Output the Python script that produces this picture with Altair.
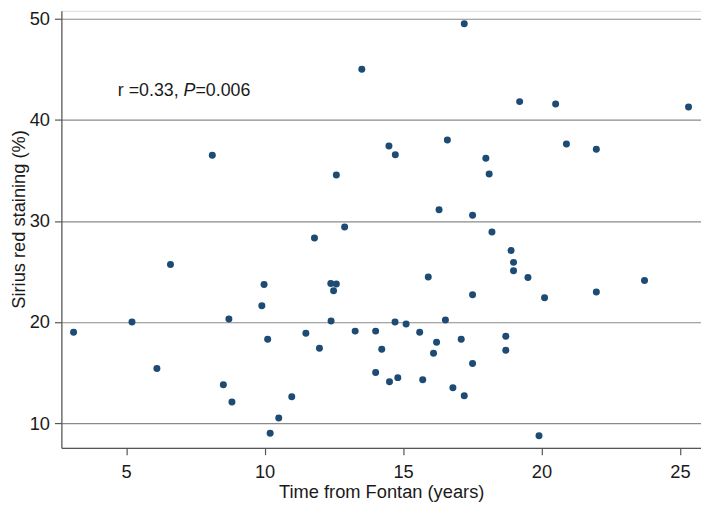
import altair as alt
import pandas as pd

# Time from Fontan (years)
time_years = [
    3.10, 5.21, 6.11, 6.60, 8.11, 8.51, 8.71, 8.82, 9.90, 9.98,
    10.11, 10.20, 10.51, 10.98, 11.49, 11.80, 11.98, 12.39, 12.49, 12.59,
    12.40, 12.59, 12.89, 13.27, 13.51, 14.01, 14.01, 14.23, 14.49, 14.51,
    14.71, 14.72, 14.81, 15.11, 15.60, 15.71, 15.91, 16.10, 16.21, 16.30,
    16.53, 16.60, 16.80, 17.10, 17.21, 17.21, 17.51, 17.51, 17.51, 17.99,
    18.11, 18.21, 18.71, 18.71, 18.90, 18.99, 18.99, 19.21, 19.51, 19.91,
    20.11, 20.51, 20.90, 21.98, 21.98, 23.72, 25.31,
]
# Sirius red staining (%)
sirius_red = [
    19.0, 20.0, 15.4, 25.7, 36.5, 13.8, 20.3, 12.1, 21.6, 23.7,
    18.3, 9.0, 10.5, 12.6, 18.9, 28.3, 17.4, 23.8, 23.1, 23.75,
    20.1, 34.55, 29.4, 19.1, 45.0, 19.1, 15.0, 17.3, 37.4, 14.1,
    20.0, 36.55, 14.5, 19.8, 19.0, 14.3, 24.45, 16.9, 18.0, 31.1,
    20.2, 38.0, 13.5, 18.3, 49.5, 12.7, 30.55, 22.7, 15.9, 36.2,
    34.65, 28.9, 18.6, 17.2, 27.07, 25.9, 25.06, 41.8, 24.4, 8.74,
    22.4, 41.56, 37.6, 37.1, 22.97, 24.1, 41.27,
]

x_ticks = [5, 10, 15, 20, 25]
y_ticks = [10, 20, 30, 40, 50]

x_title = "Time from Fontan (years)"
y_title = "Sirius red staining (%)"

ann_x = [4.7]
ann_y = [42.85]
ann_parts = ["r =0.33, ", "P", "=0.006"]

df = pd.DataFrame({"t": time_years, "s": sirius_red})
ann = pd.DataFrame({"x": ann_x, "y": ann_y})

FONT = "Liberation Sans"
x_scale = alt.Scale(domain=[2.66, 25.76], nice=False, zero=False)
y_scale = alt.Scale(domain=[7.56, 50.78], nice=False, zero=False)

points = alt.Chart(df).mark_circle(size=50, color="#1d4b74", opacity=1).encode(
    x=alt.X(
        "t:Q",
        scale=x_scale,
        axis=alt.Axis(
            values=x_ticks,
            title=x_title,
            grid=False,
            domainColor="#555555",
            domainWidth=1.2,
            tickColor="#555555",
            tickWidth=1.2,
            tickSize=7,
            labelPadding=8,
            labelFont=FONT,
            labelFontSize=18.5,
            labelColor="#1a1a1a",
            titleFont=FONT,
            titleFontSize=18.5,
            titleFontWeight="normal",
            titleColor="#1a1a1a",
            titleBaseline="alphabetic",
            titleY=50.5,
        ),
    ),
    y=alt.Y(
        "s:Q",
        scale=y_scale,
        axis=alt.Axis(
            values=y_ticks,
            title=y_title,
            grid=True,
            gridColor="#8a8a8a",
            gridWidth=1.2,
            domainColor="#555555",
            domainWidth=1.2,
            tickColor="#555555",
            tickWidth=1.2,
            tickSize=7,
            labelPadding=5,
            labelFont=FONT,
            labelFontSize=18.5,
            labelColor="#1a1a1a",
            titleFont=FONT,
            titleFontSize=18.5,
            titleFontWeight="normal",
            titleColor="#1a1a1a",
            titleBaseline="alphabetic",
            titleX=-37.5,
            titleY=210.5,
        ),
    ),
)

base_ann = alt.Chart(ann).encode(
    x=alt.X("x:Q", scale=x_scale),
    y=alt.Y("y:Q", scale=y_scale),
)
t1 = base_ann.mark_text(align="left", baseline="middle", font=FONT, fontSize=18, color="#1a1a1a").encode(
    text=alt.value(ann_parts[0])
)
t2 = base_ann.mark_text(align="left", baseline="middle", font=FONT, fontSize=18, fontStyle="italic", color="#1a1a1a", dx=66.5).encode(
    text=alt.value(ann_parts[1])
)
t3 = base_ann.mark_text(align="left", baseline="middle", font=FONT, fontSize=18, color="#1a1a1a", dx=78.5).encode(
    text=alt.value(ann_parts[2])
)

chart = alt.layer(points, t1, t2, t3).properties(
    width=647,
    height=442,
    autosize=alt.AutoSizeParams(type="none"),
    padding={"left": 54, "top": 0, "right": 0, "bottom": 55},
).configure_view(stroke=None).configure(background="white")

chart.save("out.html", embed_options={"renderer": "svg", "actions": False})
